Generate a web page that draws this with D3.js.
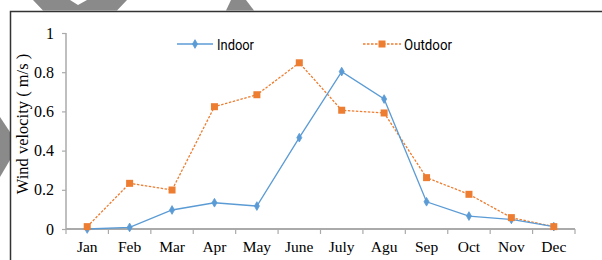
<!DOCTYPE html>
<html><head><meta charset="utf-8">
<script src="https://cdn.jsdelivr.net/npm/d3@7"></script>
<style>body{margin:0;background:#fff}svg{display:block}</style>
</head><body>
<script>
const months = ["Jan","Feb","Mar","Apr","May","June","July","Agu","Sep","Oct","Nov","Dec"];
const indoor = [0.0,0.008,0.097,0.134,0.117,0.466,0.803,0.663,0.139,0.066,0.049,0.012];
const outdoor = [0.012,0.233,0.199,0.624,0.685,0.848,0.606,0.592,0.262,0.177,0.058,0.012];
const yTicks = [0,0.2,0.4,0.6,0.8,1];
const yTickLabels = ["0","0.2","0.4","0.6","0.8","1"];
const seriesNames = ["Indoor","Outdoor"];

const W=602,H=260;
const svg=d3.select("body").append("svg").attr("width",W).attr("height",H);

// watermark fragments
svg.append("path").attr("d","M33,0 L70,0 L78,5 L87,0 L127,0 L117,10.5 L43,10.5 Z").attr("fill","#8a8a8a");
svg.append("path").attr("d","M226,10.5 L231,0 L246,0 L254,10.5 Z").attr("fill","#8a8a8a");
svg.append("path").attr("d","M0,117 L10,132 L10,160 L0,177 Z").attr("fill","#8a8a8a");

// frame
svg.append("path").attr("d","M10.5,262 L10.5,11.5 L604,11.5").attr("fill","none").attr("stroke","#333").attr("stroke-width",1.5);

const x=d3.scaleBand().domain(months).range([66,575]);
const y=d3.scaleLinear().domain([0,1]).range([229,33]);
const cx=m=>x(m)+x.bandwidth()/2;

// y axis
const ya=svg.append("g").attr("transform","translate(66,0)")
 .call(d3.axisLeft(y).tickValues(yTicks).tickFormat((d,i)=>yTickLabels[i]).tickSize(4).tickPadding(8));
ya.select(".domain").attr("stroke","#aaa").attr("stroke-width",1.5).attr("d","M0,229V33");
ya.selectAll(".tick line").attr("stroke","#aaa").attr("stroke-width",1.2);
ya.selectAll("text").attr("font-family","Liberation Serif").attr("font-size",16).attr("fill","#000");

// x axis
const xa=svg.append("g").attr("transform","translate(0,229)")
 .call(d3.axisBottom(x).tickSize(0).tickPadding(12));
xa.select(".domain").attr("stroke","#aaa").attr("stroke-width",2).attr("d","M66,0H575");
xa.selectAll("text").attr("font-family","Liberation Serif").attr("font-size",15.5).attr("fill","#000");
const bounds=months.map(m=>x(m)).concat([575]);
svg.append("g").selectAll("line").data(bounds).join("line")
 .attr("x1",d=>d).attr("x2",d=>d).attr("y1",229).attr("y2",234).attr("stroke","#aaa").attr("stroke-width",1.2);

// y label
svg.append("text").attr("transform","translate(28,124) rotate(-90)").attr("text-anchor","middle")
 .attr("font-family","Liberation Serif").attr("font-size",16.5).attr("fill","#000").text("Wind velocity ( m/s )");

const line=d3.line().x((d,i)=>cx(months[i])).y(d=>y(d));
const blue="#5b9bd5", orange="#ed7d31";

svg.append("path").datum(outdoor).attr("d",line).attr("fill","none").attr("stroke",orange).attr("stroke-width",1.3).attr("stroke-dasharray","2.5,1.5");
svg.append("path").datum(indoor).attr("d",line).attr("fill","none").attr("stroke",blue).attr("stroke-width",1.3);

const diamond=d3.symbol().type(d3.symbolDiamond).size(22);
svg.append("g").selectAll("path").data(indoor).join("path")
 .attr("transform",(d,i)=>`translate(${cx(months[i])},${y(d)})`).attr("d",diamond).attr("fill",blue).attr("stroke",blue).attr("stroke-width",0.8);
svg.append("g").selectAll("rect").data(outdoor).join("rect")
 .attr("x",(d,i)=>cx(months[i])-3.5).attr("y",d=>y(d)-3.5).attr("width",7).attr("height",7).attr("fill",orange);

// legend
const lg=svg.append("g");
const lf="Roboto, 'Liberation Sans', sans-serif";
lg.append("line").attr("x1",177).attr("x2",213).attr("y1",44).attr("y2",44).attr("stroke",blue).attr("stroke-width",1.3);
lg.append("path").attr("transform","translate(195,44)").attr("d",diamond).attr("fill",blue).attr("stroke",blue).attr("stroke-width",0.8);
lg.append("text").attr("x",217).attr("y",49.5).attr("font-family",lf).attr("font-size",15.5)
 .attr("textLength",37).attr("lengthAdjust","spacingAndGlyphs").text(seriesNames[0]);
lg.append("line").attr("x1",363).attr("x2",401).attr("y1",44).attr("y2",44).attr("stroke",orange).attr("stroke-width",1.3).attr("stroke-dasharray","2.5,1.5");
lg.append("rect").attr("x",378.5).attr("y",40.5).attr("width",7).attr("height",7).attr("fill",orange);
lg.append("text").attr("x",404).attr("y",49.5).attr("font-family",lf).attr("font-size",15.5)
 .attr("textLength",48).attr("lengthAdjust","spacingAndGlyphs").text(seriesNames[1]);
</script>
</body></html>
